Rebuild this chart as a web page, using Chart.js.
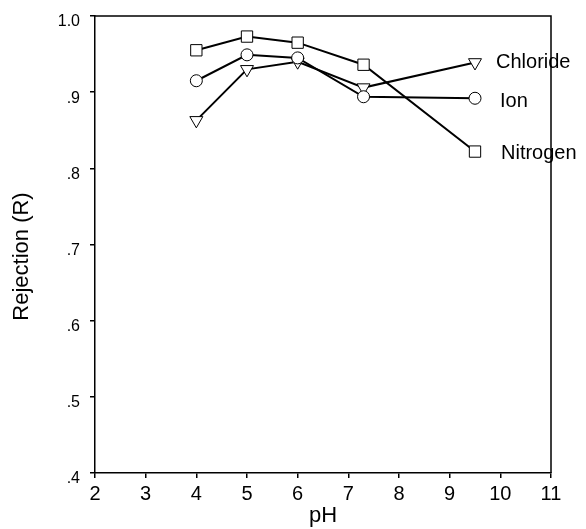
<!DOCTYPE html>
<html>
<head>
<meta charset="utf-8">
<script src="https://cdn.jsdelivr.net/npm/chart.js@4"></script>
<style>
  html, body { margin: 0; padding: 0; background: #fff; }
</style>
</head>
<body>
<canvas id="chart" width="586" height="529"></canvas>
<script>
// pH values where rejection was measured
const phValues = [4, 5, 6, 7.3, 9.5];

// Rejection (R) for each series
const nitrogenRejection = [0.955, 0.973, 0.965, 0.936, 0.822];
const ionRejection = [0.915, 0.949, 0.945, 0.894, 0.892];
const chlorideRejection = [0.863, 0.930, 0.940, 0.906, 0.939];

// Axis ticks and their labels
const xTicks = [2, 3, 4, 5, 6, 7, 8, 9, 10, 11];
const yTicks = [0.4, 0.5, 0.6, 0.7, 0.8, 0.9, 1.0];
const yTickLabels = [".4", ".5", ".6", ".7", ".8", ".9", "1.0"];

const fontFamily = "'Liberation Sans', Arial, Helvetica, sans-serif";

// Build {x, y} points from pH + rejection arrays
function toPoints(values) {
    return phValues.map((ph, i) => ({ x: ph, y: values[i] }));
}

// Where each series name sits relative to its last point
const labelOffsets = {
    Chloride: [21, 0],
    Ion: [25, 3],
    Nitrogen: [26, 2]
};

// Series names next to the last markers
const seriesLabels = {
    id: "seriesLabels",
    afterDatasetsDraw(chart) {
        const ctx = chart.ctx;
        ctx.save();
        ctx.font = "20px " + fontFamily;
        ctx.fillStyle = "#000";
        ctx.textAlign = "left";
        ctx.textBaseline = "middle";
        chart.data.datasets.forEach((ds, i) => {
            const pts = chart.getDatasetMeta(i).data;
            const last = pts[pts.length - 1];
            const off = labelOffsets[ds.label] || [20, 0];
            ctx.fillText(ds.label, last.x + off[0], last.y + off[1]);
        });
        ctx.restore();
    }
};

// Top and right edges of the box, plus the y title
const frame = {
    id: "frame",
    afterDraw(chart) {
        const ctx = chart.ctx;
        const a = chart.chartArea;
        ctx.save();
        ctx.strokeStyle = "#000";
        ctx.lineWidth = 1.5;
        ctx.beginPath();
        ctx.moveTo(a.left, a.top);
        ctx.lineTo(a.right, a.top);
        ctx.lineTo(a.right, a.bottom);
        ctx.stroke();

        // y axis title, sits a bit below the middle in the original
        ctx.translate(22, (a.top + a.bottom) / 2 + 12);
        ctx.rotate(-Math.PI / 2);
        ctx.font = "22px " + fontFamily;
        ctx.textAlign = "center";
        ctx.textBaseline = "middle";
        ctx.fillStyle = "#000";
        ctx.fillText("Rejection (R)", 0, 0);
        ctx.restore();
    }
};

const lineStyle = {
    borderColor: "#000",
    borderWidth: 2,
    pointBackgroundColor: "#fff",
    pointBorderColor: "#000",
    pointBorderWidth: 1,
    fill: false,
    tension: 0
};

new Chart(document.getElementById("chart"), {
    type: "line",
    data: {
        datasets: [
            {
                ...lineStyle,
                label: "Nitrogen",
                data: toPoints(nitrogenRejection),
                pointStyle: "rect",
                pointRadius: 8
            },
            {
                ...lineStyle,
                label: "Ion",
                data: toPoints(ionRejection),
                pointStyle: "circle",
                pointRadius: 6
            },
            {
                ...lineStyle,
                label: "Chloride",
                data: toPoints(chlorideRejection),
                pointStyle: "triangle",
                pointRotation: 180,
                pointRadius: 7.5
            }
        ]
    },
    options: {
        responsive: false,
        animation: false,
        layout: { padding: { left: 0, right: 35, top: 16, bottom: 0 } },
        plugins: {
            legend: { display: false },
            tooltip: { enabled: false }
        },
        scales: {
            x: {
                type: "linear",
                min: 2,
                max: 11,
                afterFit(s) {
                    s.height = 56;
                    s.paddingLeft = 0;
                    s.paddingRight = 0;
                },
                afterBuildTicks(s) { s.ticks = xTicks.map(v => ({ value: v })); },
                ticks: {
                    color: "#000",
                    font: { family: fontFamily, size: 20 },
                    padding: 4,
                    maxRotation: 0
                },
                grid: { drawOnChartArea: false, tickLength: 5, color: "#000", lineWidth: 1.5 },
                border: { color: "#000", width: 1.5 },
                title: {
                    display: true,
                    text: "pH",
                    color: "#000",
                    font: { family: fontFamily, size: 22 },
                    padding: { top: 0, bottom: 0 }
                }
            },
            y: {
                type: "linear",
                min: 0.4,
                max: 1.0,
                afterFit(s) {
                    s.width = 95;
                    s.paddingTop = 0;
                    s.paddingBottom = 0;
                },
                afterBuildTicks(s) { s.ticks = yTicks.map(v => ({ value: v })); },
                ticks: {
                    color: "#000",
                    font: { family: fontFamily, size: 16 },
                    padding: 10,
                    labelOffset: 6,
                    callback: (v, i) => yTickLabels[i]
                },
                grid: { drawOnChartArea: false, tickLength: 5, color: "#000", lineWidth: 1.5 },
                border: { color: "#000", width: 1.5 }
            }
        }
    },
    plugins: [seriesLabels, frame]
});
</script>
</body>
</html>
